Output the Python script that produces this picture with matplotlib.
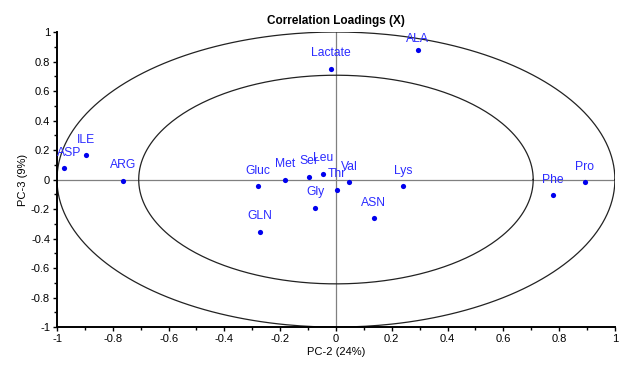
import matplotlib.pyplot as plt
import numpy as np
from matplotlib.ticker import MultipleLocator

plt.rcParams['font.family'] = ['Liberation Sans', 'DejaVu Sans']

# Loadings
names = ["ASP", "ILE", "ARG", "Gluc", "Met", "Ser", "Leu", "Thr", "Val",
         "Lys", "Gly", "GLN", "ASN", "Phe", "Pro", "Lactate", "ALA"]
pc2 = [-0.975, -0.896, -0.763, -0.28, -0.183, -0.097, -0.047, 0.004, 0.047,
       0.24, -0.075, -0.272, 0.136, 0.778, 0.892, -0.018, 0.294]
pc3 = [0.075, 0.163, -0.007, -0.047, 0.0, 0.02, 0.04, -0.068, -0.02,
       -0.047, -0.19, -0.353, -0.264, -0.108, -0.02, 0.75, 0.88]

fig = plt.figure(figsize=(6.23, 3.70), dpi=100)
ax = fig.add_axes([0.0915, 0.116, 0.8955, 0.7975])

# circles at 100% and 50% explained variance
t = np.linspace(0, 2 * np.pi, 400)
for r in [1.0, np.sqrt(0.5)]:
    ax.plot(r * np.cos(t), r * np.sin(t), color='#222222', lw=0.9, zorder=2)

ax.axhline(0, color='#808080', lw=0.9, zorder=1)
ax.axvline(0, color='#808080', lw=0.9, zorder=1)

ax.scatter(pc2, pc3, s=14, color='#0000ee', zorder=3, linewidths=0)
for n, x, y in zip(names, pc2, pc3):
    dx, dy = 0, 11.5
    if n == "ASP":
        dx = 3.5
    if n == "ALA":
        dy = 8
    ax.annotate(n, (x, y), xytext=(dx, dy), textcoords='offset points',
                ha='center', va='center', fontsize=8.7, color='#2b2bff', zorder=4)

ax.set_xlim(-1, 1)
ax.set_ylim(-1, 1)
ax.xaxis.set_major_locator(MultipleLocator(0.2))
ax.yaxis.set_major_locator(MultipleLocator(0.2))
ax.xaxis.set_minor_locator(MultipleLocator(0.1))
ax.yaxis.set_minor_locator(MultipleLocator(0.1))
ax.xaxis.set_major_formatter(lambda v, p: f"{v:g}" if abs(v) > 1e-9 else "0")
ax.yaxis.set_major_formatter(lambda v, p: f"{v:g}" if abs(v) > 1e-9 else "0")
ax.tick_params(which='major', direction='out', length=3, width=1, labelsize=8, pad=2)
ax.tick_params(which='minor', direction='out', length=2, width=1)

for s in ['top', 'right']:
    ax.spines[s].set_visible(False)
for s in ['left', 'bottom']:
    ax.spines[s].set_linewidth(1.4)

ax.set_title("Correlation Loadings (X)", fontsize=8.5, fontweight='bold', pad=6)
ax.set_xlabel("PC-2 (24%)", fontsize=8, labelpad=2)
ax.set_ylabel("PC-3 (9%)", fontsize=8, labelpad=2)

plt.savefig("out.png", dpi=100)
